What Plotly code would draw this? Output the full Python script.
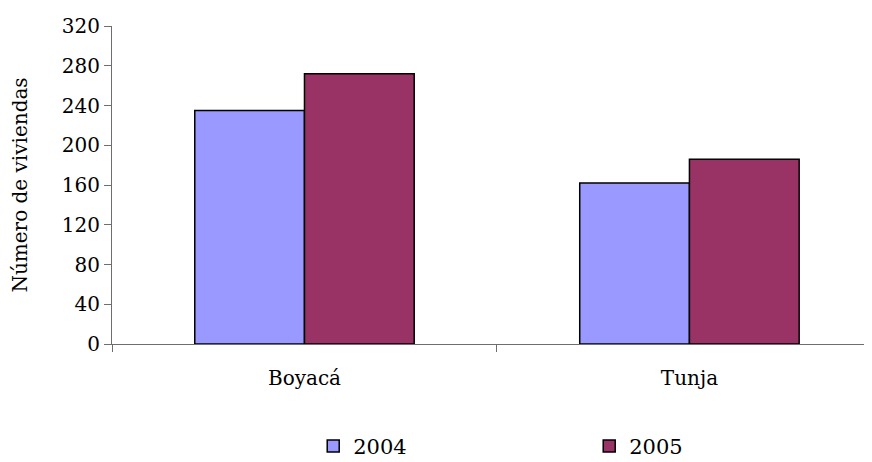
import plotly.graph_objects as go

categories = ["Boyacá", "Tunja"]
years = ["2004", "2005"]
values_2004 = [235, 162]
values_2005 = [272, 186]
y_ticks = [0, 40, 80, 120, 160, 200, 240, 280, 320]

colors = {"2004": "#9999FF", "2005": "#993366"}
series = {"2004": values_2004, "2005": values_2005}

fig = go.Figure()
for yr in years:
    fig.add_trace(go.Bar(
        name=yr, x=categories, y=series[yr],
        marker=dict(color=colors[yr], line=dict(color="#000000", width=1.5)),
    ))

font_family = "DejaVu Serif"
fs = 20
fig.update_layout(
    width=872, height=462,
    barmode="group", bargap=0.43, bargroupgap=0,
    plot_bgcolor="white", paper_bgcolor="white",
    margin=dict(l=104, r=0, t=18, b=126, autoexpand=False),
    font=dict(family=font_family, size=fs, color="#000000"),
    showlegend=True,
    legend=dict(
        orientation="h", x=0.262, xanchor="left",
        y=-0.322, yanchor="middle",
        entrywidth=231, entrywidthmode="pixels",
        font=dict(family=font_family, size=21, color="#000000"),
        itemwidth=30,
    ),
    xaxis=dict(
        range=[-0.5, 1.495], showgrid=False, zeroline=False, automargin=False,
        showline=True, linecolor="#6e6e6e", linewidth=1,
        ticks="outside", tickson="boundaries", ticklen=7, tickcolor="#6e6e6e",
        ticklabelstandoff=16,
        tickfont=dict(family=font_family, size=fs),
    ),
    yaxis=dict(
        range=[0, 320], tickvals=y_ticks, showgrid=False, zeroline=False, automargin=False,
        showline=True, linecolor="#6e6e6e", linewidth=1,
        ticks="outside", ticklen=7, tickcolor="#6e6e6e",
        tickfont=dict(family=font_family, size=fs),
        title=dict(text="Número de viviendas", font=dict(family=font_family, size=fs), standoff=38),
    ),
)

fig.write_html("out.html")
